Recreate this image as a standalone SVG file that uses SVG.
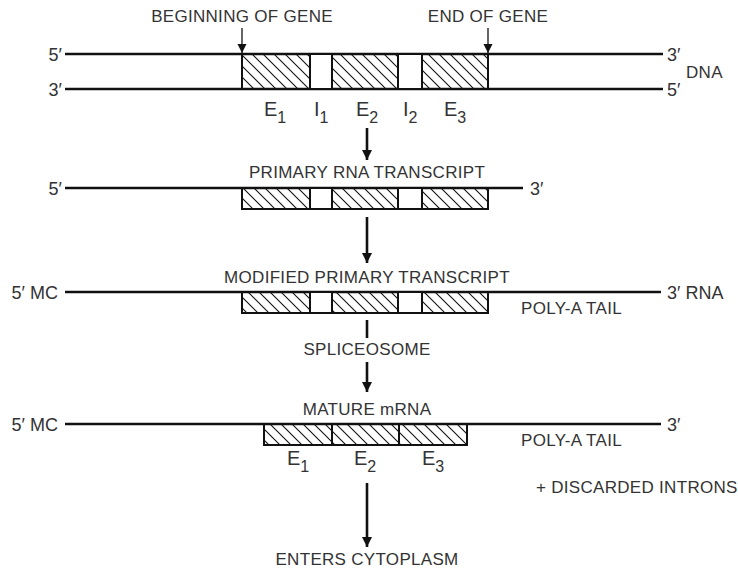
<svg xmlns="http://www.w3.org/2000/svg" width="738" height="572" viewBox="0 0 738 572">
<defs>
<pattern id="hatch" patternUnits="userSpaceOnUse" width="11" height="11">
<path d="M0,0 L11,11 M-2,9 L2,13 M9,-2 L13,2" stroke="#111" stroke-width="1.1"/>
</pattern>
<marker id="ah" viewBox="0 0 10 10" refX="10" refY="5" markerWidth="4" markerHeight="4" orient="auto" markerUnits="strokeWidth">
<path d="M0,0 L10,5 L0,10 z" fill="#111"/>
</marker>
<marker id="ahs" viewBox="0 0 10 10" refX="10" refY="5" markerWidth="7" markerHeight="7" orient="auto" markerUnits="strokeWidth">
<path d="M0,0 L10,5 L0,10 z" fill="#111"/>
</marker>
</defs>
<style>
text{font-family:"Liberation Sans",Arial,sans-serif;fill:#333}
.t{font-size:17px;letter-spacing:0.3px}
.p{font-size:18px}
.e{font-size:20px}
.e tspan{font-size:16px}
.strand{stroke:#111;stroke-width:2.6;fill:none}
.ex{fill:url(#hatch);stroke:#111;stroke-width:2}
.in{fill:#fff;stroke:#111;stroke-width:2}
.conn{stroke:#111;stroke-width:2.6;fill:none}
.thin{stroke:#111;stroke-width:1.3;fill:none}
</style>
<rect width="738" height="572" fill="#fff"/>

<g id="dna">
<line class="strand" x1="65" y1="54" x2="663" y2="54"/>
<line class="strand" x1="65" y1="89" x2="663" y2="89"/>
<rect class="ex" x="242" y="54" width="68" height="35"/>
<rect class="in" x="310" y="54" width="22" height="35"/>
<rect class="ex" x="332" y="54" width="66" height="35"/>
<rect class="in" x="398" y="54" width="24" height="35"/>
<rect class="ex" x="422" y="54" width="66" height="35"/>
<text class="p" x="62" y="61" text-anchor="end">5′</text>
<text class="p" x="62" y="96" text-anchor="end">3′</text>
<text class="p" x="667" y="61">3′</text>
<text class="t" x="686" y="78">DNA</text>
<text class="p" x="667" y="96">5′</text>
<text class="t" x="242" y="22" text-anchor="middle">BEGINNING OF GENE</text>
<text class="t" x="488" y="22" text-anchor="middle">END OF GENE</text>
<text class="e" x="264" y="116">E<tspan dy="7">1</tspan></text>
<text class="e" x="314" y="116">I<tspan dy="7">1</tspan></text>
<text class="e" x="356" y="116">E<tspan dy="7">2</tspan></text>
<text class="e" x="403" y="116">I<tspan dy="7">2</tspan></text>
<text class="e" x="444" y="116">E<tspan dy="7">3</tspan></text>
</g>

<g id="primary">
<text class="t" x="367" y="178" text-anchor="middle">PRIMARY RNA TRANSCRIPT</text>
<line class="strand" x1="65" y1="188" x2="523" y2="188"/>
<rect class="ex" x="242" y="188" width="68" height="21"/>
<rect class="in" x="310" y="188" width="22" height="21"/>
<rect class="ex" x="332" y="188" width="66" height="21"/>
<rect class="in" x="398" y="188" width="24" height="21"/>
<rect class="ex" x="422" y="188" width="66" height="21"/>
<text class="p" x="62" y="195" text-anchor="end">5′</text>
<text class="p" x="530" y="195">3′</text>
</g>

<g id="modified">
<text class="t" x="367" y="283" text-anchor="middle">MODIFIED PRIMARY TRANSCRIPT</text>
<line class="strand" x1="65" y1="292" x2="661" y2="292"/>
<rect class="ex" x="242" y="292" width="68" height="21"/>
<rect class="in" x="310" y="292" width="22" height="21"/>
<rect class="ex" x="332" y="292" width="66" height="21"/>
<rect class="in" x="398" y="292" width="24" height="21"/>
<rect class="ex" x="422" y="292" width="66" height="21"/>
<text class="p" x="58" y="299" text-anchor="end">5′ MC</text>
<text class="p" x="667" y="299">3′ RNA</text>
<text class="t" x="521" y="314">POLY-A TAIL</text>
</g>

<g id="spliceosome">
<text class="t" x="367" y="355" text-anchor="middle">SPLICEOSOME</text>
</g>

<g id="mature">
<text class="t" x="367" y="415" text-anchor="middle">MATURE mRNA</text>
<line class="strand" x1="65" y1="424" x2="661" y2="424"/>
<rect class="ex" x="264" y="424" width="68" height="21"/>
<rect class="ex" x="332" y="424" width="67" height="21"/>
<rect class="ex" x="399" y="424" width="68" height="21"/>
<text class="p" x="58" y="431" text-anchor="end">5′ MC</text>
<text class="p" x="667" y="431">3′</text>
<text class="t" x="521" y="446">POLY-A TAIL</text>
<text class="e" x="287" y="465">E<tspan dy="7">1</tspan></text>
<text class="e" x="354" y="465">E<tspan dy="7">2</tspan></text>
<text class="e" x="422" y="465">E<tspan dy="7">3</tspan></text>
<text class="t" x="536" y="493">+ DISCARDED INTRONS</text>
</g>

<g id="cytoplasm">
<text class="t" x="367" y="565" text-anchor="middle">ENTERS CYTOPLASM</text>
</g>

<g id="connectors">
<line class="thin" x1="242" y1="28" x2="242" y2="53" marker-end="url(#ahs)"/>
<line class="thin" x1="488" y1="28" x2="488" y2="53" marker-end="url(#ahs)"/>
<line class="conn" x1="367" y1="128" x2="367" y2="160" marker-end="url(#ah)"/>
<line class="conn" x1="367" y1="217" x2="367" y2="263" marker-end="url(#ah)"/>
<line class="conn" x1="367" y1="320" x2="367" y2="338"/>
<line class="conn" x1="367" y1="362" x2="367" y2="392" marker-end="url(#ah)"/>
<line class="conn" x1="367" y1="483" x2="367" y2="547" marker-end="url(#ah)"/>
</g>
</svg>
